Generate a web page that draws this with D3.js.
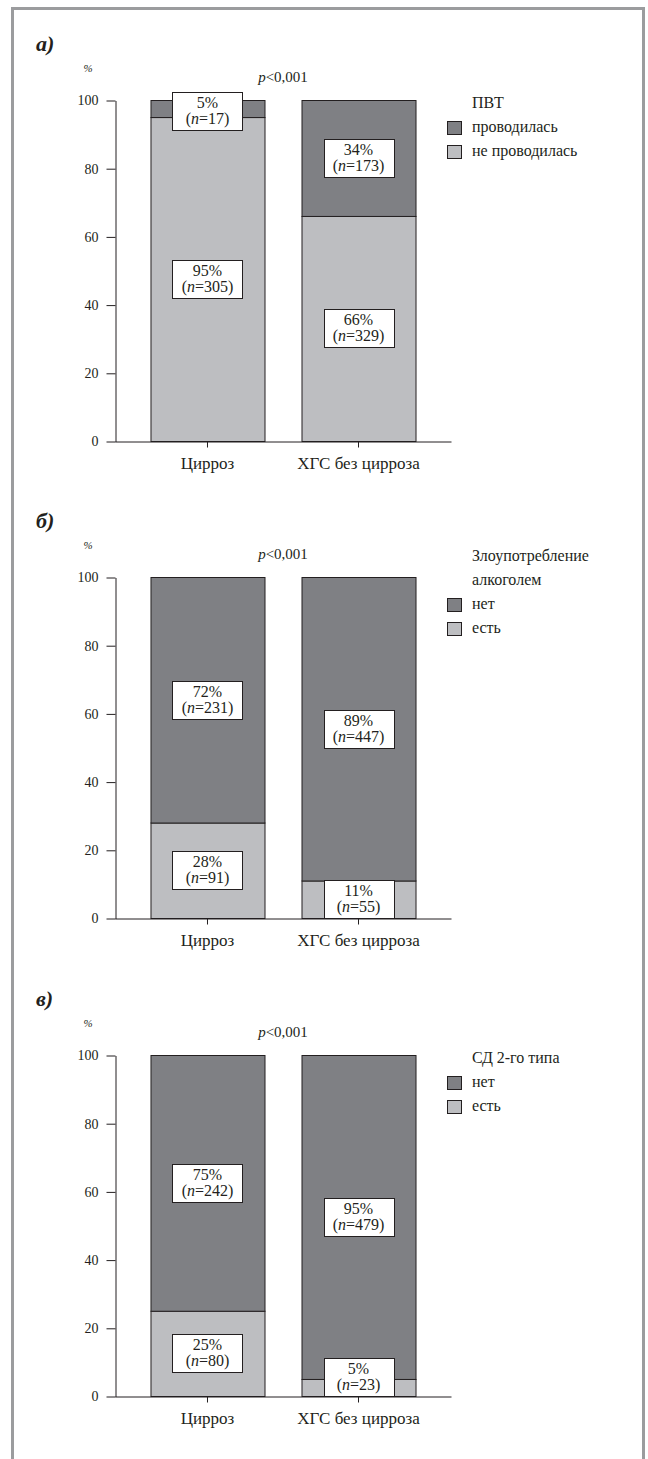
<!DOCTYPE html>
<html>
<head>
<meta charset="utf-8">
<script src="https://cdn.jsdelivr.net/npm/d3@7"></script>
</head>
<body style="margin:0;padding:0;background:#fff">
<svg id="chart" width="648" height="1459" font-family="Liberation Serif" style="display:block"></svg>
<script>
// categories and ticks shared by the three panels
const categories = ["Цирроз", "ХГС без цирроза"];
const yTicks = [0, 20, 40, 60, 80, 100];
const panelLetters = ["а)", "б)", "в)"];
const pTexts = ["<0,001", "<0,001", "<0,001"];

// legend titles (lines) and item names: [top segment, bottom segment]
const legendTitles = [["ПВТ"], ["Злоупотребление", "алкоголем"], ["СД 2-го типа"]];
const legendItems = [["проводилась", "не проводилась"], ["нет", "есть"], ["нет", "есть"]];

// bottom (light) segment, percent per category
const bottomPct = [[95, 66], [28, 11], [25, 5]];
const bottomN = [[305, 329], [91, 55], [80, 23]];
// top (dark) segment, percent per category
const topPct = [[5, 34], [72, 89], [75, 95]];
const topN = [[17, 173], [231, 447], [242, 479]];

const darkFill = "#7f8084";
const lightFill = "#bdbec1";
const inkColor = "#231f20";
const serif = "Liberation Serif";

const width = 648, height = 1459;
const panelTop = [100, 577, 1055]; // pixel of 100%
const plotH = 341;

const svg = d3.select("#chart");

// outer frame (open at the bottom)
svg.append("path")
    .attr("d", `M12.5,${height + 5} V8.5 H643.5 V${height + 5}`)
    .attr("fill", "none")
    .attr("stroke", "#9b9c9e")
    .attr("stroke-width", 3);

const x = d3.scaleBand()
    .domain(categories)
    .range([115, 451])
    .paddingInner(0.245)
    .paddingOuter(0.235);

function txt(sel, size) {
    return sel.append("text")
        .attr("font-family", serif)
        .style("font-family", `'${serif}'`)
        .attr("font-size", size)
        .attr("fill", inkColor);
}

panelTop.forEach((top, p) => {
    const y = d3.scaleLinear().domain([0, 100]).range([top + plotH, top]);
    const g = svg.append("g");

    // panel letter
    txt(g, 22)
        .attr("x", 36)
        .attr("y", top - 49)
        .attr("font-weight", "bold")
        .attr("font-style", "italic")
        .text(panelLetters[p]);

    // % unit
    txt(g, 11)
        .attr("x", 88)
        .attr("y", top - 28)
        .attr("text-anchor", "middle")
        .attr("font-style", "italic")
        .text("%");

    // p value
    const pt = txt(g, 15)
        .attr("x", (x(categories[0]) + x(categories[1]) + x.bandwidth()) / 2)
        .attr("y", top - 18)
        .attr("text-anchor", "middle");
    pt.append("tspan").attr("font-style", "italic").text("p");
    pt.append("tspan").text(pTexts[p]);

    // bars: bottom (light) and top (dark) segments
    categories.forEach((c, i) => {
        const lo = bottomPct[p][i];
        g.append("rect")
            .attr("x", x(c) + 0.5)
            .attr("y", y(lo) + 0.5)
            .attr("width", x.bandwidth())
            .attr("height", y(0) - y(lo))
            .attr("fill", lightFill)
            .attr("stroke", inkColor)
            .attr("stroke-width", 1);
        g.append("rect")
            .attr("x", x(c) + 0.5)
            .attr("y", y(100) + 0.5)
            .attr("width", x.bandwidth())
            .attr("height", y(lo) - y(100))
            .attr("fill", darkFill)
            .attr("stroke", inkColor)
            .attr("stroke-width", 1);
    });

    // value boxes
    const boxes = [];
    categories.forEach((c, i) => {
        const lo = bottomPct[p][i];
        boxes.push({ cx: x(c) + x.bandwidth() / 2, cy: y(lo / 2), pct: bottomPct[p][i], n: bottomN[p][i] });
        boxes.push({ cx: x(c) + x.bandwidth() / 2, cy: y((lo + 100) / 2), pct: topPct[p][i], n: topN[p][i] });
    });
    boxes.forEach(b => {
        const bw = 70, bh = 38;
        let cy = b.cy;
        // keep the box inside the plot
        cy = Math.max(y(100) - 8 + bh / 2, Math.min(y(0) - bh / 2, cy));
        g.append("rect")
            .attr("x", Math.round(b.cx - bw / 2) + 0.5)
            .attr("y", Math.round(cy - bh / 2) + 0.5)
            .attr("width", bw)
            .attr("height", bh)
            .attr("fill", "#fff")
            .attr("stroke", inkColor)
            .attr("stroke-width", 1);
        txt(g, 16)
            .attr("x", b.cx)
            .attr("y", cy - 3)
            .attr("text-anchor", "middle")
            .text(b.pct + "%");
        const t2 = txt(g, 16)
            .attr("x", b.cx)
            .attr("y", cy + 13)
            .attr("text-anchor", "middle");
        t2.append("tspan").text("(");
        t2.append("tspan").attr("font-style", "italic").text("n");
        t2.append("tspan").text("=" + b.n + ")");
    });

    // y axis
    const yAxis = g.append("g")
        .attr("transform", "translate(115.5,0.5)")
        .call(d3.axisLeft(y).tickValues(yTicks).tickSize(9).tickPadding(8).tickSizeOuter(0))
        .attr("font-family", serif);
    yAxis.selectAll("text")
        .style("font-family", `'${serif}'`)
        .attr("font-size", 14)
        .attr("fill", inkColor);
    yAxis.selectAll("line, path").attr("stroke", inkColor);

    // x axis
    const xAxis = g.append("g")
        .attr("transform", `translate(0,${y(0) + 0.5})`)
        .call(d3.axisBottom(x).tickSize(6).tickPadding(9).tickSizeOuter(0))
        .attr("font-family", serif);
    xAxis.selectAll("text")
        .style("font-family", `'${serif}'`)
        .attr("font-size", 17)
        .attr("fill", inkColor);
    xAxis.selectAll("line, path").attr("stroke", inkColor);

    // legend
    const item1 = top + 32;
    const titles = legendTitles[p];
    titles.forEach((t, k) => {
        txt(g, 16)
            .attr("x", 472)
            .attr("y", item1 - 24 * (titles.length - k))
            .text(t);
    });
    const fills = [darkFill, lightFill];
    legendItems[p].forEach((name, k) => {
        const by = item1 + 24 * k;
        g.append("rect")
            .attr("x", 447.5)
            .attr("y", by - 10.5)
            .attr("width", 14)
            .attr("height", 13)
            .attr("fill", fills[k])
            .attr("stroke", inkColor)
            .attr("stroke-width", 1);
        txt(g, 16)
            .attr("x", 472)
            .attr("y", by)
            .text(name);
    });
});
</script>
</body>
</html>
